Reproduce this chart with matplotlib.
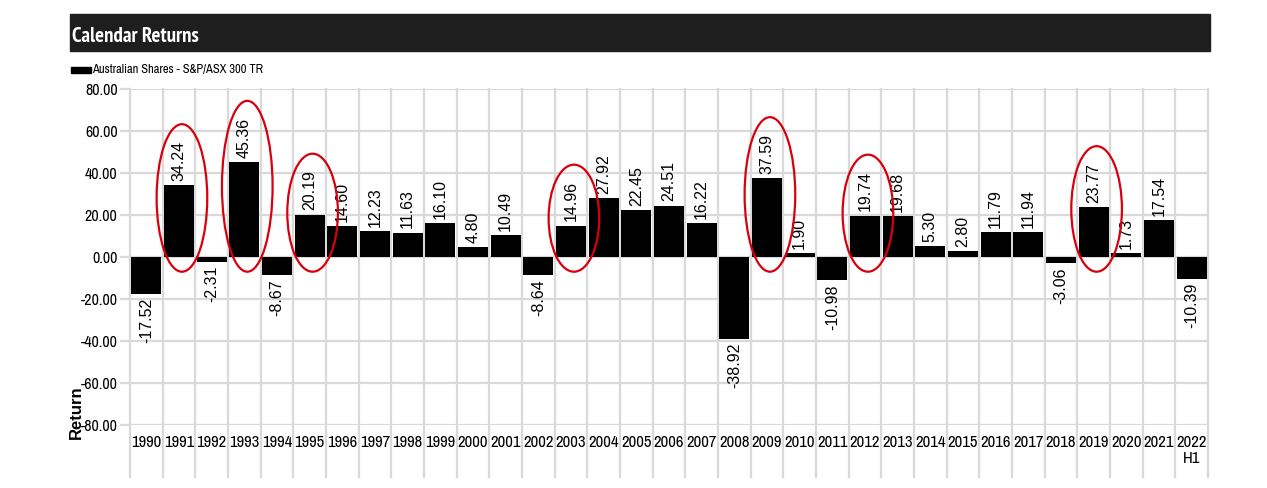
import matplotlib
matplotlib.use("Agg")
import matplotlib.pyplot as plt
from matplotlib.patches import Rectangle, Ellipse
import matplotlib.transforms as mtransforms

years = ["1990", "1991", "1992", "1993", "1994", "1995", "1996", "1997", "1998", "1999",
         "2000", "2001", "2002", "2003", "2004", "2005", "2006", "2007", "2008", "2009",
         "2010", "2011", "2012", "2013", "2014", "2015", "2016", "2017", "2018", "2019",
         "2020", "2021", "2022\nH1"]
returns = [-17.52, 34.24, -2.31, 45.36, -8.67, 20.19, 14.60, 12.23, 11.63, 16.10,
           4.80, 10.49, -8.64, 14.96, 27.92, 22.45, 24.51, 16.22, -38.92, 37.59,
           1.90, -10.98, 19.74, 19.68, 5.30, 2.80, 11.79, 11.94, -3.06, 23.77,
           1.73, 17.54, -10.39]
highlighted = ["1991", "1993", "1995", "2003", "2009", "2012", "2019"]
yticks = [80, 60, 40, 20, 0, -20, -40, -60, -80]
series_name = "Australian Shares - S&P/ASX 300 TR"
title = "Calendar Returns"
ylabel = "Return"

NARROW = ["Archivo Narrow", "PT Sans Narrow", "Roboto Condensed", "Liberation Sans", "DejaVu Sans"]
NARROW_B = ["PT Sans Narrow", "Roboto Condensed", "Liberation Sans", "DejaVu Sans"]
REG = ["Liberation Sans", "DejaVu Sans"]

W, H = 1267, 488
fig = plt.figure(figsize=(W / 100, H / 100), dpi=100)

def fx(px):
    return px / W

def fy(py):
    return 1 - py / H

# title bar
fig.patches.append(Rectangle((fx(70), fy(51)), fx(1210) - fx(70), fy(14) - fy(51),
                             transform=fig.transFigure, color="#1e1e1e", zorder=0))
fig.text(fx(72), fy(36), title, color="white", fontsize=15, fontweight="bold",
         family=NARROW_B, va="center", ha="left")

# legend
fig.patches.append(Rectangle((fx(71), fy(73)), fx(91) - fx(71), fy(67) - fy(73),
                             transform=fig.transFigure, color="black"))
fig.text(fx(92), fy(69), series_name, fontsize=9, family=NARROW, va="center", ha="left")

left, right, top, bottom = 130, 1208, 89, 425
ax = fig.add_axes([fx(left), fy(bottom), fx(right) - fx(left), fy(top) - fy(bottom)])
n = len(years)
x = list(range(n))
ax.set_xlim(-0.5, n - 0.5)
ax.set_ylim(-80, 80)
for s in ax.spines.values():
    s.set_visible(False)

gc = "#d9d9d9"
for v in yticks:
    ax.axhline(v, color=gc, lw=1.6, zorder=0)
trans = mtransforms.blended_transform_factory(ax.transData, ax.transAxes)
ext = (477 - bottom) / (bottom - top)
for i in range(n + 1):
    ax.plot([i - 0.5, i - 0.5], [-ext, 1], color=gc, lw=1.6, transform=trans,
            clip_on=False, zorder=0)

ax.bar(x, returns, width=0.92, color="black", zorder=2)

for xi, v in zip(x, returns):
    if v >= 0:
        ax.annotate(f"{v:.2f}", (xi, v), xytext=(0, 3), textcoords="offset points",
                    rotation=90, ha="center", va="bottom", fontsize=11.5, family=REG, zorder=3)
    else:
        ax.annotate(f"{v:.2f}", (xi, v), xytext=(0, -3), textcoords="offset points",
                    rotation=90, ha="center", va="top", fontsize=11.5, family=REG, zorder=3)

for yr in highlighted:
    i = years.index(yr)
    v = returns[i]
    top_v = v + 29
    bot_v = -7
    ax.add_patch(Ellipse((i + 0.09, (top_v + bot_v) / 2), 1.55, top_v - bot_v,
                         fill=False, edgecolor="#d9000d", lw=1.6, zorder=4))

ax.set_yticks(yticks)
ax.set_yticklabels([f"{v:.2f}" for v in yticks], family=NARROW, fontsize=11.5)
ax.tick_params(axis="y", length=7, color=gc, width=1.6, pad=2)
ax.set_xticks(x)
ax.set_xticklabels(years, family=NARROW, fontsize=12, va="top", linespacing=1.1)
ax.tick_params(axis="x", length=0, pad=7)

fig.text(fx(76), fy(412), ylabel, rotation=90, fontsize=12, fontweight="bold",
         family=REG, va="center", ha="center")

fig.savefig("out.png", dpi=100, facecolor="white")
